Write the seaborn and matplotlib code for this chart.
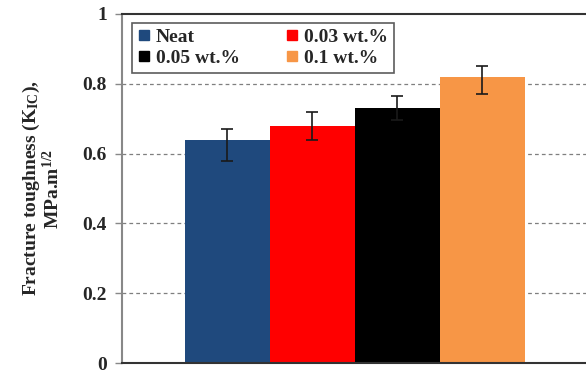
import numpy as np
import pandas as pd
import matplotlib
matplotlib.use('Agg')
import matplotlib.pyplot as plt
import seaborn as sns
from matplotlib.lines import Line2D

samples = ['Neat', '0.03 wt.%', '0.05 wt.%', '0.1 wt.%']
kic = [0.64, 0.68, 0.73, 0.82]
err_low = [0.06, 0.04, 0.035, 0.05]
err_high = [0.03, 0.04, 0.035, 0.03]
colors = ['#1F497D', '#FF0000', '#000000', '#F79646']
yticks = [0, 0.2, 0.4, 0.6, 0.8, 1]

sns.set_style('white')
plt.rcParams['font.family'] = ['Liberation Serif', 'DejaVu Serif']
plt.rcParams['mathtext.fontset'] = 'custom'
plt.rcParams['mathtext.rm'] = 'Liberation Serif:bold'
plt.rcParams['mathtext.it'] = 'Liberation Serif:bold'
plt.rcParams['mathtext.bf'] = 'Liberation Serif:bold'

df = pd.DataFrame({'sample': samples, 'kic': kic})

fig = plt.figure(figsize=(5.86, 3.73), dpi=100)
ax = fig.add_axes([122 / 586, 10 / 373, 468 / 586, 349 / 373])

for y in yticks[1:-1]:
    ax.axhline(y, color='#7f7f7f', lw=0.9, ls=(0, (3, 2.5)), zorder=0)

sns.barplot(data=df, x='sample', y='kic', hue='sample', palette=colors,
            saturation=1, width=1.0, dodge=False, legend=False, ax=ax, zorder=2,
            edgecolor='none', linewidth=0)
ax.errorbar(np.arange(len(samples)), kic, yerr=[err_low, err_high], fmt='none',
            ecolor='#1a1a1a', elinewidth=1.2, capsize=4, capthick=1.2, zorder=3)

ax.set_xlim(-1.24, 4.27)
ax.set_ylim(0, 1)
ax.set_yticks(yticks)
ax.set_yticklabels(['0', '0.2', '0.4', '0.6', '0.8', '1'], fontsize=14, fontweight='bold')
ax.set_xticks([])
ax.set_xlabel('')
ax.tick_params(axis='y', direction='out', length=5, width=1, color='#888888', pad=6, left=True)
ax.set_ylabel('Fracture toughness (K$_{IC}$),\nMPa.m$^{1/2}$', fontsize=14,
              fontweight='bold', labelpad=14, linespacing=1.0)

ax.spines['left'].set_color('#888888')
ax.spines['left'].set_linewidth(1.5)
ax.spines['bottom'].set_color('#333333')
ax.spines['bottom'].set_linewidth(1.5)
ax.spines['top'].set_color('#333333')
ax.spines['top'].set_linewidth(1.5)
ax.spines['right'].set_visible(False)

handles = [Line2D([], [], marker='s', ls='none', color=c, markersize=7) for c in colors]
order = [0, 2, 1, 3]
leg = ax.legend([handles[i] for i in order], [samples[i] for i in order],
                ncol=2, loc='upper left', bbox_to_anchor=(0.022, 0.975),
                frameon=True, fancybox=False, edgecolor='#333333',
                prop={'family': 'Liberation Serif', 'weight': 'bold', 'size': 14},
                handlelength=0.6, handletextpad=0.3, columnspacing=2.4,
                labelspacing=0.15, borderpad=0.3, borderaxespad=0)
leg.get_frame().set_linewidth(1.2)

fig.savefig('out.png', dpi=100)
